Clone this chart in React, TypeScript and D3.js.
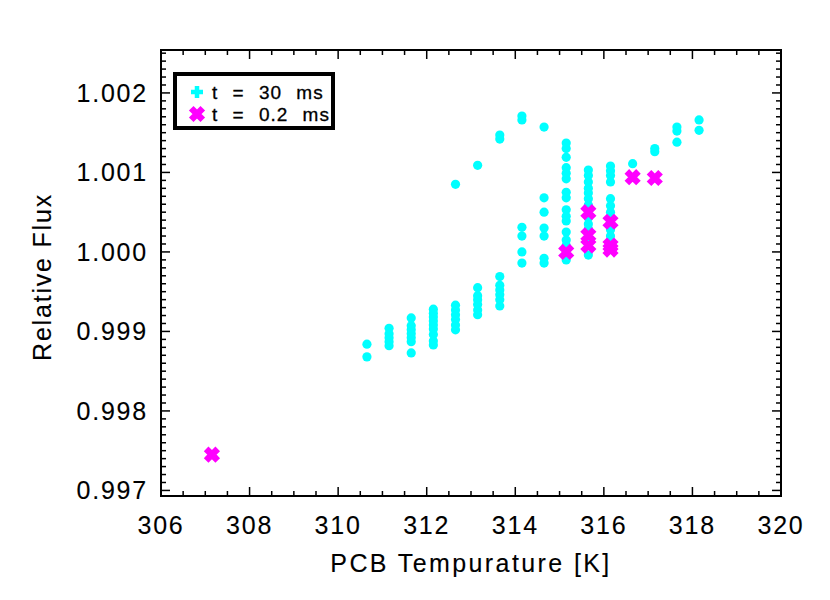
import React from "react";
import * as d3 from "d3";

// ---- data ----
const cyanTemps = [310.65, 311.15, 311.65, 312.15, 312.65, 313.15, 313.65, 314.15, 314.65, 315.15, 315.65, 316.15, 316.65, 317.15, 317.65, 318.15];
const cyanFlux: number[][] = [
  [0.99884, 0.99868],
  [0.99904, 0.99897, 0.99892, 0.99887, 0.99882],
  [0.99917, 0.99907, 0.99902, 0.99897, 0.99892, 0.99887, 0.99873],
  [0.99928, 0.99923, 0.99918, 0.99913, 0.99908, 0.99903, 0.99896, 0.99888, 0.99883],
  [1.00085, 0.99933, 0.99927, 0.99921, 0.99915, 0.99908, 0.99902],
  [1.00109, 0.99955, 0.99945, 0.9994, 0.99934, 0.99927, 0.99921],
  [1.00147, 1.00142, 0.99969, 0.99958, 0.99952, 0.99946, 0.9994, 0.99932],
  [1.00171, 1.00166, 1.00031, 1.0002, 1.0, 0.99986],
  [1.00157, 1.00068, 1.0005, 1.0003, 1.0002, 0.99992, 0.99986],
  [1.00137, 1.0013, 1.00119, 1.00106, 1.00099, 1.00092, 1.00075, 1.00068, 1.00053, 1.00045, 1.00039, 1.00025, 1.00015, 1.00008, 0.9999],
  [1.00103, 1.00096, 1.00088, 1.0008, 1.00074, 1.00067, 1.00059, 1.00043, 1.00035, 1.00029, 1.00015, 0.99996],
  [1.00108, 1.00102, 1.00096, 1.00088, 1.00067, 1.00058, 1.0005, 1.00043, 1.00028, 1.0002, 1.00013],
  [1.00111],
  [1.0013, 1.00126],
  [1.00157, 1.00152, 1.00138],
  [1.00166, 1.00153],
];
const magentaTemps = [307.15, 315.15, 315.65, 315.65, 315.65, 316.15, 316.15, 316.15, 316.65, 317.15];
const magentaFlux = [0.99745, 1.0, 1.0005, 1.00021, 1.00008, 1.00038, 1.00008, 1.00003, 1.00094, 1.00093];

const xTicks = [306, 308, 310, 312, 314, 316, 318, 320];
const yTicks = [0.997, 0.998, 0.999, 1.0, 1.001, 1.002];
const legendLabels = ["t = 30 ms", "t = 0.2 ms"];
const xTitle = "PCB Tempurature [K]";
const yTitle = "Relative Flux";

const CYAN = "#00ffff";
const MAGENTA = "#ff00ff";
const FONT = "'Liberation Sans', Arial, sans-serif";

export default function App() {
  const L = 161, R = 781, T = 50, B = 496;
  const x = d3.scaleLinear().domain([306, 320]).range([L, R]);
  const y = d3.scaleLinear().domain([0.99693, 1.00254]).range([B, T]);

  const xMinor = d3.range(306, 320.001, 0.5);
  const yMinor = d3.range(0, 57).map((i) => 0.997 + i * 0.0001).filter((v) => y(v) >= T - 0.5);

  const cyanPts: [number, number][] = [];
  cyanTemps.forEach((t, i) => cyanFlux[i].forEach((f) => cyanPts.push([t, f])));

  const majLen = 9, minLen = 5;

  const xPath = (px: number, py: number, s: number) =>
    `M${px - s},${py - s}L${px + s},${py + s}M${px - s},${py + s}L${px + s},${py - s}`;

  const textStyle = { stroke: "black", strokeWidth: 0.12 } as const;

  return (
    <svg width={830} height={600} style={{ display: "block", position: "absolute", left: 0, top: 0 }} fontFamily={FONT}>
      <rect x={0} y={0} width={830} height={600} fill="white" />
      {/* data */}
      {cyanPts.map(([t, f], i) => (
        <circle key={"c" + i} cx={x(t)} cy={y(f)} r={4.6} fill={CYAN} />
      ))}
      {magentaTemps.map((t, i) => (
        <path key={"m" + i} d={xPath(x(t), y(magentaFlux[i]), 3.5)} stroke={MAGENTA} strokeWidth={6.5} strokeLinecap="square" fill="none" />
      ))}

      {/* ticks */}
      <g stroke="black" strokeWidth={1.5}>
        {xMinor.map((v, i) => {
          const isMaj = Math.abs(v - Math.round(v)) < 1e-6 && Math.round(v) % 2 === 0;
          const len = isMaj ? majLen : minLen;
          return (
            <g key={"xt" + i}>
              <line x1={x(v)} x2={x(v)} y1={B} y2={B - len} />
              <line x1={x(v)} x2={x(v)} y1={T} y2={T + len} />
            </g>
          );
        })}
        {yMinor.map((v, i) => {
          const isMaj = i % 10 === 0;
          const len = isMaj ? majLen : minLen;
          return (
            <g key={"yt" + i}>
              <line x1={L} x2={L + len} y1={y(v)} y2={y(v)} />
              <line x1={R} x2={R - len} y1={y(v)} y2={y(v)} />
            </g>
          );
        })}
      </g>
      <rect x={L} y={T} width={R - L} height={B - T} fill="none" stroke="black" strokeWidth={2} />

      {/* tick labels */}
      {xTicks.map((v) => (
        <text key={"xl" + v} x={x(v)} y={534} textAnchor="middle" fontSize={25} letterSpacing={1.8} {...textStyle}>
          {v}
        </text>
      ))}
      {yTicks.map((v) => (
        <text key={"yl" + v} x={148} y={y(v) + 9} textAnchor="end" fontSize={25} letterSpacing={1.8} {...textStyle}>
          {d3.format(".3f")(v)}
        </text>
      ))}

      {/* axis titles */}
      <text x={471} y={572} textAnchor="middle" fontSize={25} letterSpacing={2.4} {...textStyle}>
        {xTitle}
      </text>
      <text transform={`translate(51,277) rotate(-90)`} textAnchor="middle" fontSize={25} letterSpacing={1.8} {...textStyle}>
        {yTitle}
      </text>

      {/* legend */}
      <rect x={175} y={74} width={158} height={54} fill="white" stroke="black" strokeWidth={4} />
      <path d="M197,86V98M191,92H203" stroke={CYAN} strokeWidth={4.5} />
      <path d={xPath(197, 114, 3.5)} stroke={MAGENTA} strokeWidth={6.5} strokeLinecap="square" />
      {legendLabels.map((s, i) => (
        <text key={"lg" + i} x={212} y={99 + i * 22} fontSize={19} letterSpacing={1} wordSpacing={8} stroke="black" strokeWidth={0.3}>
          {s}
        </text>
      ))}
    </svg>
  );
}
